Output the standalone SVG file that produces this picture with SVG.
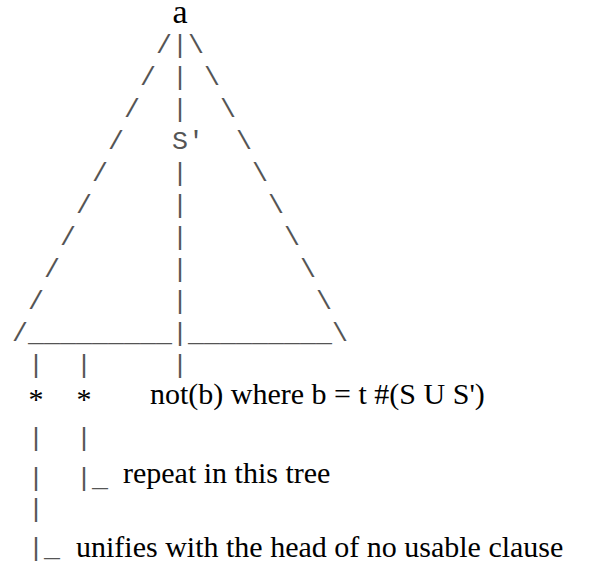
<svg xmlns="http://www.w3.org/2000/svg" width="598" height="564" viewBox="0 0 598 564">
  <style>
    .mono { font-family: "Liberation Mono", "Courier New", monospace; font-size: 26.67px; fill: #555; white-space: pre; }
    .serif { font-family: "Liberation Serif", "Times New Roman", serif; font-size: 30px; fill: #000; white-space: pre; }
    .big { font-size: 34px; }
  </style>
  <rect width="598" height="564" fill="#fff"/>

  <!-- root of the tree -->
  <g id="root">
    <text class="serif big" x="180" y="23" text-anchor="middle">a</text>
  </g>

  <!-- outline of the tree: sides, spine and base (one character cell = 16px, column 0 at x=12) -->
  <g id="tree-edges">
    <text class="mono" x="12" y="53" xml:space="preserve">         /|\</text>
    <text class="mono" x="12" y="85" xml:space="preserve">        / | \</text>
    <text class="mono" x="12" y="117" xml:space="preserve">       /  |  \</text>
    <text class="mono" x="108" y="149">/</text>
    <text class="mono" x="236" y="149">\</text>
    <text class="mono" x="12" y="181" xml:space="preserve">     /    |    \</text>
    <text class="mono" x="12" y="213" xml:space="preserve">    /     |     \</text>
    <text class="mono" x="12" y="245" xml:space="preserve">   /      |      \</text>
    <text class="mono" x="12" y="277" xml:space="preserve">  /       |       \</text>
    <text class="mono" x="12" y="309" xml:space="preserve"> /        |        \</text>
    <text class="mono" x="12" y="341" xml:space="preserve">/_________|_________\</text>
  </g>

  <!-- subtree label on the spine -->
  <g id="subtree">
    <text class="mono" x="172" y="149">S'</text>
  </g>

  <!-- leaves hanging below the base -->
  <g id="leaf-links">
    <text class="mono" x="12" y="373" xml:space="preserve"> |  |     |</text>
    <text class="mono" x="12" y="446" xml:space="preserve"> |  |</text>
    <text class="mono" x="12" y="486" xml:space="preserve"> |  |_</text>
    <text class="mono" x="12" y="517" xml:space="preserve"> |</text>
    <text class="mono" x="12" y="556" xml:space="preserve"> |_</text>
  </g>

  <g id="leaf-1">
    <text class="serif" x="36" y="409" text-anchor="middle">*</text>
  </g>
  <g id="leaf-2">
    <text class="serif" x="84" y="409" text-anchor="middle">*</text>
  </g>
  <g id="leaf-3">
    <text class="serif" x="150" y="404">not(b) where b = t #(S U S')</text>
  </g>

  <!-- notes on the two starred leaves -->
  <g id="note-repeat">
    <text class="serif" x="123" y="483">repeat in this tree</text>
  </g>
  <g id="note-unifies">
    <text class="serif" x="76" y="557">unifies with the head of no usable clause</text>
  </g>
</svg>
